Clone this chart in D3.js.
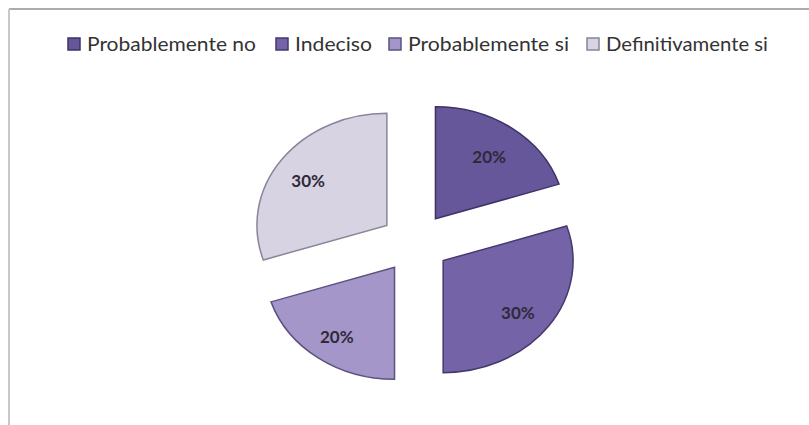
<!DOCTYPE html>
<html>
<head>
<meta charset="utf-8">
<script src="https://cdn.jsdelivr.net/npm/d3@7"></script>
<style>
  body { margin: 0; background: #fff; }
  svg { display: block; }
</style>
</head>
<body>
<svg></svg>
<script>
// chart data
const categories = ["Probablemente no", "Indeciso", "Probablemente si", "Definitivamente si"]
const values = [20, 30, 20, 30]
const labels = ["20%", "30%", "20%", "30%"]
const colors = ["#66569a", "#7563a8", "#a596c9", "#d7d3e3"]
const strokes = ["#3e3366", "#45396e", "#5d5282", "#8a8499"]

const width = 809
const height = 425

const svg = d3.select("svg")
  .attr("width", width)
  .attr("height", height)
  .style("font-family", "Lato, 'Open Sans', sans-serif")

// frame (top and left border of the chart area)
svg.append("line")
  .attr("x1", 9).attr("x2", width).attr("y1", 9).attr("y2", 9)
  .attr("stroke", "#b0aab0").attr("stroke-width", 2)
svg.append("line")
  .attr("x1", 9).attr("x2", 9).attr("y1", 9).attr("y2", height)
  .attr("stroke", "#c8c8c8").attr("stroke-width", 2)

// legend, positions
const legendX = [68, 276, 389, 587]
const legendW = [169, 77, 161, 162]
const legend = svg.append("g").selectAll("g")
  .data(categories)
  .enter()
  .append("g")
  .attr("transform", (d, i) => "translate(" + legendX[i] + ",44)")

legend.append("rect")
  .attr("x", 0).attr("y", -6).attr("width", 12).attr("height", 12)
  .attr("fill", (d, i) => colors[i])
  .attr("stroke", (d, i) => strokes[i])
  .attr("stroke-width", 1.5)

legend.append("text")
  .attr("x", 19)
  .attr("y", 0)
  .attr("dy", "0.35em")
  .attr("font-size", 19)
  .attr("fill", "#333")
  .attr("textLength", (d, i) => legendW[i])
  .attr("lengthAdjust", "spacingAndGlyphs")
  .text(d => d)

// pie
const cx = 415, cy = 243
const r = 112
const sx = 1.16  // horizontal stretch of the original picture
const explode = 30

const pie = d3.pie().sort(null).value(d => d)
const arcs = pie(values)
const arc = d3.arc().innerRadius(0).outerRadius(r)
const labelArc = d3.arc().innerRadius(r * 0.73).outerRadius(r * 0.73)

const pieG = svg.append("g")
  .attr("transform", "translate(" + cx + "," + cy + ") scale(" + sx + ",1)")

pieG.selectAll("path")
  .data(arcs)
  .enter()
  .append("path")
  .attr("transform", d => {
    const a = (d.startAngle + d.endAngle) / 2
    return "translate(" + (Math.sin(a) * explode) + "," + (-Math.cos(a) * explode) + ")"
  })
  .attr("d", arc)
  .attr("fill", (d, i) => colors[i])
  .attr("stroke", (d, i) => strokes[i])
  .attr("stroke-width", 1.5)
  .attr("vector-effect", "non-scaling-stroke")

svg.append("g").selectAll("text")
  .data(arcs)
  .enter()
  .append("text")
  .attr("transform", d => {
    const a = (d.startAngle + d.endAngle) / 2
    const c = labelArc.centroid(d)
    const x = (c[0] + Math.sin(a) * explode) * sx + cx - 2
    const y = c[1] - Math.cos(a) * explode + cy + 4
    return "translate(" + x + "," + y + ")"
  })
  .attr("text-anchor", "middle")
  .attr("dy", "0.35em")
  .attr("font-size", 17)
  .attr("font-weight", "bold")
  .attr("fill", "#2e2a3a")
  .text((d, i) => labels[i])
</script>
</body>
</html>
